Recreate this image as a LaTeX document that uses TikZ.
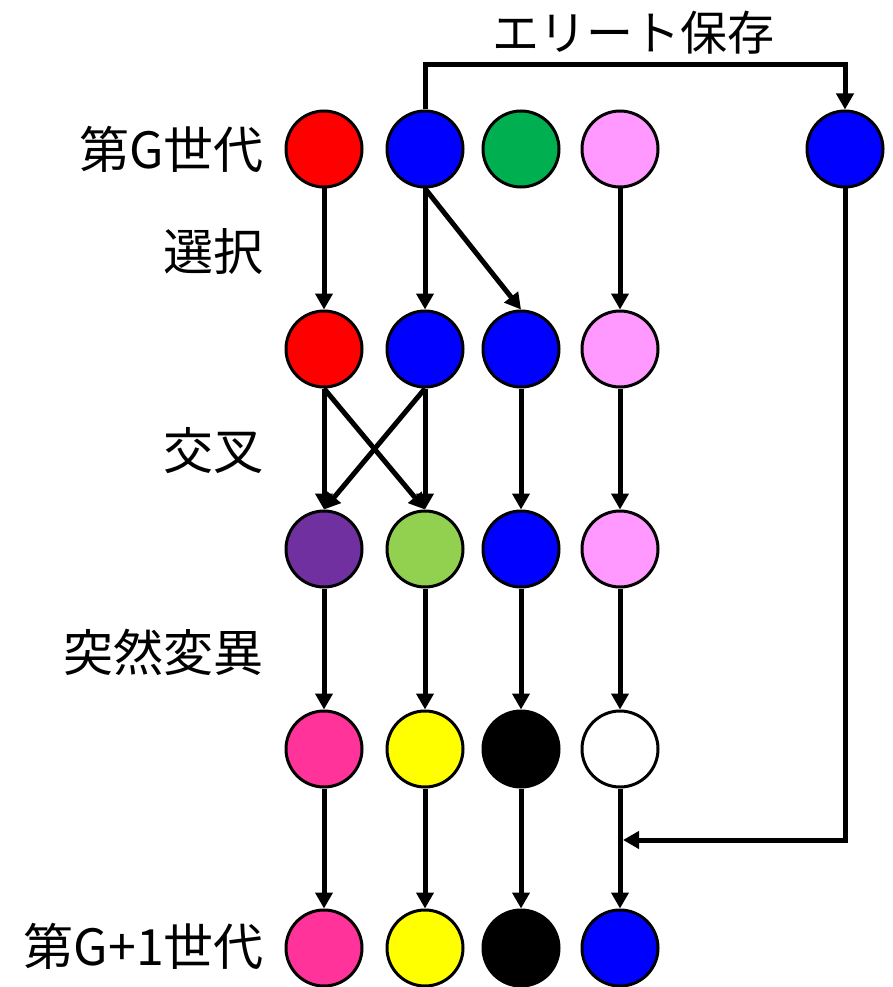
\documentclass[tikz,border=0pt]{standalone}
\usepackage{fontspec}
\setmainfont{Noto Sans CJK JP}
\usetikzlibrary{arrows.meta}
\definecolor{cred}{HTML}{FF0000}
\definecolor{cblue}{HTML}{0000FF}
\definecolor{cgreen}{HTML}{00B050}
\definecolor{cpink}{HTML}{FF99FF}
\definecolor{cpurple}{HTML}{7030A0}
\definecolor{clgreen}{HTML}{92D050}
\definecolor{cmag}{HTML}{FF3399}
\definecolor{cyel}{HTML}{FFFF00}
\tikzset{
  ind/.style={circle, draw=black, line width=3pt, minimum size=76pt, inner sep=0pt},
  arr/.style={line width=5pt, -{Triangle[length=16pt,width=17pt]}},
  lbl/.style={font=\fontsize{50}{56}\selectfont, anchor=east, inner sep=0pt},
}
\begin{document}
\begin{tikzpicture}[x=1pt,y=-1pt]
\useasboundingbox (0,0) rectangle (893,987);
% row 1
\node[ind, fill=cred]   (g1) at (324,149) {};
\node[ind, fill=cblue]  (g2) at (425,149) {};
\node[ind, fill=cgreen] (g3) at (521,149) {};
\node[ind, fill=cpink]  (g4) at (620,149) {};
\node[ind, fill=cblue]  (e)  at (845,149) {};
% row 2
\node[ind, fill=cred]   (s1) at (324,349) {};
\node[ind, fill=cblue]  (s2) at (425,349) {};
\node[ind, fill=cblue]  (s3) at (521,349) {};
\node[ind, fill=cpink]  (s4) at (620,349) {};
% row 3
\node[ind, fill=cpurple] (c1) at (324,549) {};
\node[ind, fill=clgreen] (c2) at (425,549) {};
\node[ind, fill=cblue]   (c3) at (521,549) {};
\node[ind, fill=cpink]   (c4) at (620,549) {};
% row 4
\node[ind, fill=cmag]  (m1) at (324,749) {};
\node[ind, fill=cyel]  (m2) at (425,749) {};
\node[ind, fill=black] (m3) at (521,749) {};
\node[ind, fill=white] (m4) at (620,749) {};
% row 5
\node[ind, fill=cmag]  (n1) at (324,948) {};
\node[ind, fill=cyel]  (n2) at (425,948) {};
\node[ind, fill=black] (n3) at (521,948) {};
\node[ind, fill=cblue] (n4) at (620,948) {};
% labels
\node[lbl] (l1) at (264,149) {第G世代};
\node[lbl] (l2) at (264,252) {選択};
\node[lbl] (l3) at (264,451) {交叉};
\node[lbl] (l4) at (264,652) {突然変異};
\node[lbl] (l5) at (264,946) {第G+1世代};
\node[font=\fontsize{47}{52}\selectfont, inner sep=0pt] (l6) at (633,33) {エリート保存};
% selection
\draw[arr] (g1.south) -- (s1.north);
\draw[arr] (g2.south) -- (s2.north);
\draw[arr] (g2.south) -- (s3.north);
\draw[arr] (g4.south) -- (s4.north);
% crossover
\draw[arr] (s1.south) -- (c1.north);
\draw[arr] (s1.south) -- (c2.north);
\draw[arr] (s2.south) -- (c1.north);
\draw[arr] (s2.south) -- (c2.north);
\draw[arr] (s3.south) -- (c3.north);
\draw[arr] (s4.south) -- (c4.north);
% mutation
\draw[arr] (c1.south) -- (m1.north);
\draw[arr] (c2.south) -- (m2.north);
\draw[arr] (c3.south) -- (m3.north);
\draw[arr] (c4.south) -- (m4.north);
% next generation
\draw[arr] (m1.south) -- (n1.north);
\draw[arr] (m2.south) -- (n2.north);
\draw[arr] (m3.south) -- (n3.north);
\draw[arr] (m4.south) -- (n4.north);
% elite
\coordinate (top) at (633,65);
\coordinate (join) at (623,840);
\draw[arr] (g2.north) |- (top) -| (e.north);
\draw[arr] (e.south) |- (join);
\end{tikzpicture}
\end{document}
